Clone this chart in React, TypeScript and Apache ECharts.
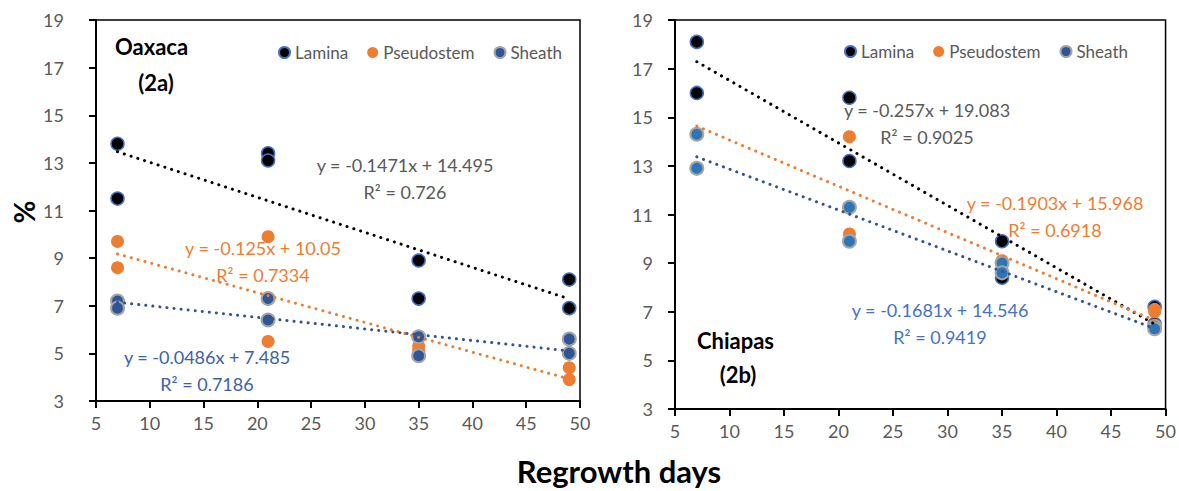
import React, { useEffect, useRef } from "react";
import * as echarts from "echarts";

const days = [7, 7, 21, 21, 35, 35, 49, 49];
const seriesNames = ["Lamina", "Pseudostem", "Sheath"];

const oaxLamina = [13.8, 11.5, 13.4, 13.1, 8.9, 7.3, 8.1, 6.9];
const oaxPseudo = [9.7, 8.6, 9.9, 5.5, 5.3, 5.1, 4.4, 3.9];
const oaxSheath = [7.2, 6.9, 7.3, 6.4, 5.7, 4.9, 5.6, 5.0];

const chiLamina = [18.1, 16.0, 15.8, 13.2, 9.9, 8.4, 7.2, 6.5];
const chiPseudo = [14.3, 12.9, 14.2, 10.2, 9.1, 8.6, 7.1, 7.0];
const chiSheath = [14.3, 12.9, 11.3, 9.9, 9.0, 8.6, 6.4, 6.3];

const oaxSlope = [-0.1471, -0.125, -0.0486];
const oaxIntercept = [14.495, 10.05, 7.485];
const oaxR2 = ["0.726", "0.7334", "0.7186"];
const chiSlope = [-0.257, -0.1903, -0.1681];
const chiIntercept = [19.083, 15.968, 14.546];
const chiR2 = ["0.9025", "0.6918", "0.9419"];

const trendX = [7, 49];
const xTicks = { min: 5, max: 50, interval: 5 };
const yTicks = { min: 3, max: 19, interval: 2 };

const FONT = "Lato";
const GREY = "#595959";

export default function App() {
  const ref = useRef<HTMLDivElement>(null);
  useEffect(() => {
    const chart = echarts.init(ref.current!, null, { renderer: "svg" });

    const pts = (ys: number[]) => days.map((d, i) => [d, ys[i]]);
    const trend = (s: number, b: number) => trendX.map((x) => [x, s * x + b]);

    const xAxis = (gi: number) => ({
      type: "value",
      gridIndex: gi,
      ...xTicks,
      axisLine: { show: true, onZero: false, lineStyle: { color: "#000", width: 2 } },
      axisTick: { show: true, length: 7, lineStyle: { color: "#000", width: 2 } },
      splitLine: { show: false },
      axisLabel: { fontSize: 18, color: GREY, margin: 13, fontFamily: FONT },
    });
    const yAxis = (gi: number, margin: number) => ({
      type: "value",
      gridIndex: gi,
      ...yTicks,
      axisLine: { show: true, onZero: false, lineStyle: { color: "#000", width: 2 } },
      axisTick: { show: true, length: 7, lineStyle: { color: "#000", width: 2 } },
      splitLine: { show: false },
      axisLabel: { fontSize: 18, color: GREY, margin, fontFamily: FONT },
    });

    const laminaStyle = { color: "#000", borderColor: "#4472C4", borderWidth: 1.5, opacity: 1 };
    const pseudoStyle = { color: "#ED7D31", opacity: 1 };
    const sheathStyleL = { color: "#2F5597", borderColor: "#A5A5A5", borderWidth: 2, opacity: 1 };
    const sheathStyleR = { color: "#2E75B6", borderColor: "#A5A5A5", borderWidth: 2, opacity: 1 };

    const scatter = (name: string, gi: number, ys: number[], itemStyle: any, z: number) => ({
      type: "scatter",
      name,
      xAxisIndex: gi,
      yAxisIndex: gi,
      data: pts(ys),
      symbolSize: 13,
      itemStyle,
      z,
    });
    const trendColors = ["#000", "#ED7D31", "#2F5597"];
    const line = (gi: number, s: number, b: number, color: string) => ({
      type: "line",
      xAxisIndex: gi,
      yAxisIndex: gi,
      data: trend(s, b),
      symbol: "none",
      silent: true,
      z: 5,
      lineStyle: { color, width: 3, type: [0.1, 7], cap: "round" },
    });

    const eqColorsL = [GREY, "#ED7D31", "#3B62A8"];
    const eqColorsR = [GREY, "#ED7D31", "#4472C4"];
    const eqPosL = [[405, 165], [263, 248], [207, 357]];
    const eqPosR = [[927, 110], [1055, 203], [940, 310]];

    const eqTexts: any[] = [];
    const addEq = (pos: number[][], slope: number[], icpt: number[], r2: string[], colors: string[]) => {
      for (let i = 0; i < 3; i++) {
        eqTexts.push({
          type: "text",
          x: pos[i][0],
          y: pos[i][1],
          style: {
            text: `y = ${slope[i]}x + ${icpt[i]}`,
            fill: colors[i],
            font: `18px ${FONT}`,
            textAlign: "center",
            textVerticalAlign: "middle",
          },
          z: 10,
        });
        eqTexts.push({
          type: "text",
          x: pos[i][0],
          y: pos[i][1] + 27,
          style: {
            text: `R² = ${r2[i]}`,
            fill: colors[i],
            font: `18px ${FONT}`,
            textAlign: "center",
            textVerticalAlign: "middle",
          },
          z: 10,
        });
      }
    };
    addEq(eqPosL, oaxSlope, oaxIntercept, oaxR2, eqColorsL);
    addEq(eqPosR, chiSlope, chiIntercept, chiR2, eqColorsR);

    const title = (text: string, x: number, y: number, align: string, size: number) => ({
      type: "text",
      x,
      y,
      style: {
        text,
        fill: "#000",
        font: `bold ${size}px ${FONT}`,
        textAlign: align,
        textVerticalAlign: "middle",
      },
      z: 10,
    });

    const legend = (left: number, top: number) => ({
      data: seriesNames,
      left,
      top,
      icon: "circle",
      itemWidth: 11,
      itemHeight: 11,
      itemGap: 19,
      selectedMode: false,
      textStyle: { fontSize: 17, color: GREY, fontFamily: FONT },
    });

    const option: any = {
      animation: false,
      textStyle: { fontFamily: FONT },
      grid: [
        { left: 96, top: 20, width: 484, height: 381, show: true, borderColor: "#000", borderWidth: 1.5 },
        { left: 675, top: 20, width: 492, height: 389, show: true, borderColor: "#000", borderWidth: 1.5 },
      ],
      xAxis: [xAxis(0), xAxis(1)],
      yAxis: [yAxis(0, 32), yAxis(1, 22)],
      legend: [legend(273, 39), legend(839, 38)],
      series: [
        scatter("Lamina", 0, oaxLamina, laminaStyle, 2),
        scatter("Pseudostem", 0, oaxPseudo, pseudoStyle, 3),
        scatter("Sheath", 0, oaxSheath, sheathStyleL, 4),
        scatter("Lamina", 1, chiLamina, laminaStyle, 2),
        scatter("Pseudostem", 1, chiPseudo, pseudoStyle, 3),
        scatter("Sheath", 1, chiSheath, sheathStyleR, 4),
        ...oaxSlope.map((s, i) => line(0, s, oaxIntercept[i], trendColors[i])),
        ...chiSlope.map((s, i) => line(1, s, chiIntercept[i], trendColors[i])),
      ],
      graphic: [
        ...eqTexts,
        title("Oaxaca", 115, 46, "left", 22),
        title("(2a)", 156, 82, "center", 22),
        title("Chiapas", 697, 340, "left", 22),
        title("(2b)", 738, 374, "center", 22),
        {
          type: "text",
          x: 24,
          y: 212,
          rotation: Math.PI / 2,
          style: {
            text: "%",
            fill: "#000",
            font: `bold 28px ${FONT}`,
            textAlign: "center",
            textVerticalAlign: "middle",
          },
        },
        {
          type: "text",
          x: 619,
          y: 471,
          style: {
            text: "Regrowth days",
            fill: "#000",
            font: `bold 31px ${FONT}`,
            textAlign: "center",
            textVerticalAlign: "middle",
          },
        },
      ],
    };
    chart.setOption(option);
    return () => chart.dispose();
  }, []);
  return (
    <div
      ref={ref}
      style={{ position: "fixed", left: 0, top: 0, width: 1179, height: 491, background: "#fff" }}
    />
  );
}
